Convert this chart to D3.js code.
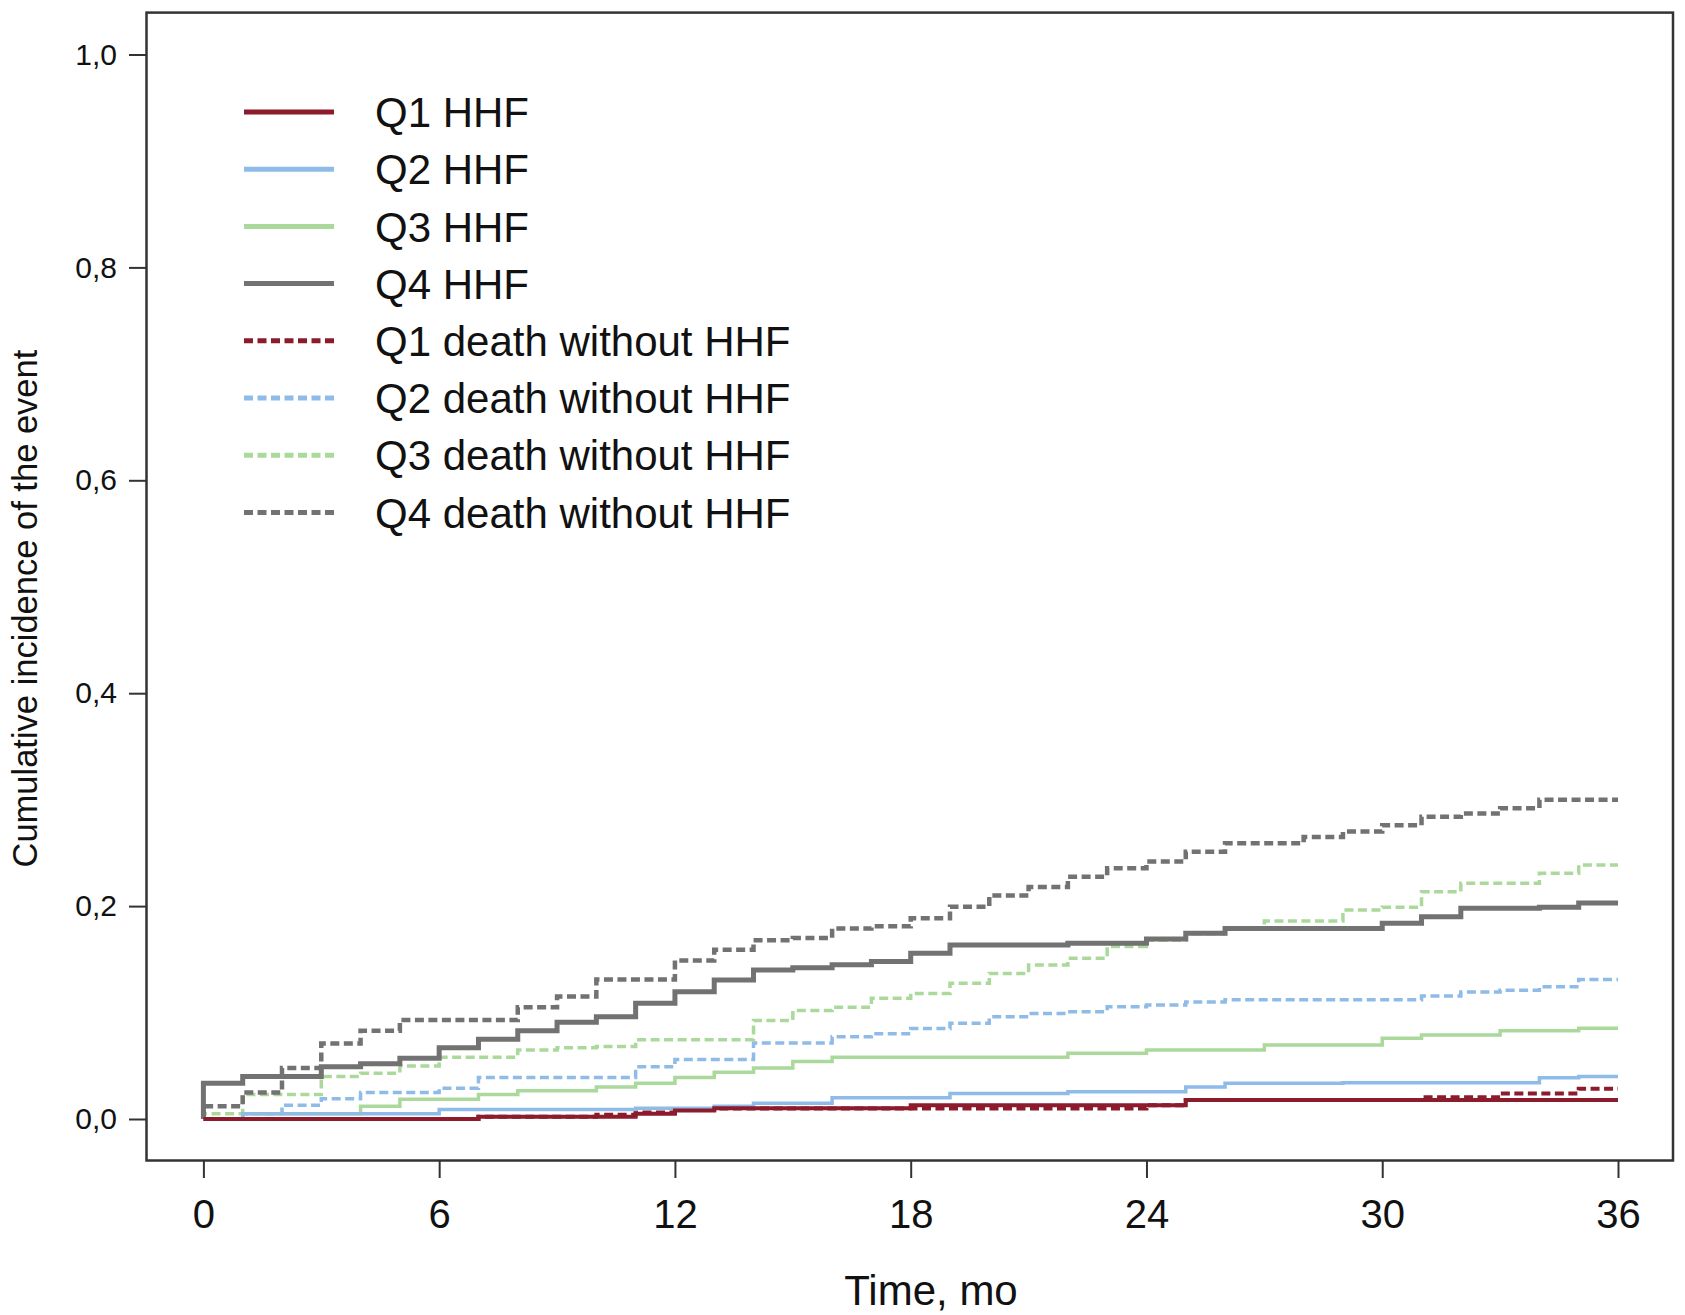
<!DOCTYPE html>
<html><head><meta charset="utf-8">
<script src="https://cdn.jsdelivr.net/npm/d3@7"></script>
<style>
html,body{margin:0;padding:0;background:#fff;}
svg{display:block;font-family:"Liberation Sans",Arial,Helvetica,sans-serif;}
</style>
</head><body>
<svg id="chart" width="1685" height="1315"></svg>
<script>
// ---- data ----
const xTicks = [0, 6, 12, 18, 24, 30, 36];
const yTicks = [0, 0.2, 0.4, 0.6, 0.8, 1.0];
const yTickLabels = ["0,0", "0,2", "0,4", "0,6", "0,8", "1,0"];
const xTitle = "Time, mo";
const yTitle = "Cumulative incidence of the event";
const seriesNames = ["Q1 HHF", "Q2 HHF", "Q3 HHF", "Q4 HHF",
  "Q1 death without HHF", "Q2 death without HHF", "Q3 death without HHF", "Q4 death without HHF"];

const q1HHF = [[0,0],[7,0.002],[11,0.005],[12,0.008],[13,0.010],[18,0.013],[25,0.0178],[36,0.0178]];
const q2HHF = [[0,0],[1,0.005],[6,0.009],[11,0.010],[13,0.012],[14,0.0147],[16,0.020],[19,0.024],[22,0.0257],[25,0.030],[26,0.0335],[29,0.034],[34,0.0388],[35,0.040],[36,0.040]];
const q3HHF = [[0,0],[1,0.005],[4,0.012],[5,0.0185],[7,0.023],[8,0.0266],[10,0.030],[11,0.0335],[12,0.039],[13,0.044],[14,0.048],[15,0.054],[16,0.058],[22,0.0617],[24,0.0648],[27,0.0695],[30,0.0758],[31,0.0789],[33,0.083],[35,0.0852],[36,0.0852]];
const q4HHF = [[0,0],[0,0.0335],[1,0.040],[3,0.049],[4,0.052],[5,0.057],[6,0.067],[7,0.075],[8,0.083],[9,0.091],[10,0.096],[11,0.1087],[12,0.1196],[13,0.1306],[14,0.140],[15,0.142],[16,0.145],[17,0.148],[18,0.1556],[19,0.1635],[22,0.165],[24,0.169],[25,0.1744],[26,0.179],[30,0.1838],[31,0.190],[32,0.198],[34,0.199],[35,0.203],[36,0.203]];
const q1Death = [[0,0],[7,0.002],[10,0.004],[11,0.006],[12,0.009],[13,0.0098],[24,0.013],[25,0.0178],[31,0.0205],[33,0.024],[35,0.0285],[36,0.0285]];
const q2Death = [[0,0],[1,0.005],[2,0.013],[3,0.019],[4,0.025],[6,0.029],[7,0.039],[11,0.049],[12,0.056],[14,0.0715],[16,0.0773],[17,0.080],[18,0.085],[19,0.090],[20,0.096],[21,0.099],[22,0.1008],[23,0.1055],[24,0.107],[25,0.110],[26,0.112],[31,0.1155],[32,0.1193],[33,0.121],[34,0.1243],[35,0.131],[36,0.131]];
const q3Death = [[0,0],[0,0.005],[1,0.023],[3,0.040],[4,0.043],[5,0.0498],[6,0.058],[8,0.0648],[9,0.067],[10,0.068],[11,0.0745],[14,0.0925],[15,0.102],[16,0.105],[17,0.1134],[18,0.118],[19,0.1275],[20,0.1368],[21,0.1447],[22,0.151],[23,0.162],[24,0.168],[25,0.174],[26,0.179],[27,0.186],[29,0.1963],[30,0.199],[31,0.2135],[32,0.2214],[34,0.2308],[35,0.2386],[36,0.2386]];
const q4Death = [[0,0],[0,0.012],[1,0.025],[2,0.048],[3,0.071],[4,0.083],[5,0.093],[8,0.105],[9,0.115],[10,0.131],[12,0.149],[13,0.159],[14,0.168],[15,0.170],[16,0.179],[17,0.181],[18,0.1885],[19,0.1995],[20,0.210],[21,0.218],[22,0.2276],[23,0.2355],[24,0.242],[25,0.251],[26,0.259],[28,0.265],[29,0.270],[30,0.276],[31,0.284],[32,0.287],[33,0.292],[34,0.300],[36,0.300]];

// ---- styles ----
const RED = "#8c1b2c", BLUE = "#8fbbe8", GREEN = "#abd99c", GRAY = "#727272";
const series = [
  {name: seriesNames[4], data: q1Death, color: RED,   width: 4,   dash: "9,4.5"},
  {name: seriesNames[5], data: q2Death, color: BLUE,  width: 3.5, dash: "9,4.5"},
  {name: seriesNames[6], data: q3Death, color: GREEN, width: 3.5, dash: "9,4.5"},
  {name: seriesNames[7], data: q4Death, color: GRAY,  width: 4.5, dash: "9,4.5"},
  {name: seriesNames[2], data: q3HHF,   color: GREEN, width: 3.5, dash: null},
  {name: seriesNames[1], data: q2HHF,   color: BLUE,  width: 3.5, dash: null},
  {name: seriesNames[3], data: q4HHF,   color: GRAY,  width: 5,   dash: null},
  {name: seriesNames[0], data: q1HHF,   color: RED,   width: 4,   dash: null}
];
const legendOrder = [7, 5, 4, 6, 0, 1, 2, 3];

const svg = d3.select("#chart");
const box = {left: 146.5, right: 1673, top: 12.6, bottom: 1160.5};
const x = d3.scaleLinear().domain([0, 36]).range([203.4, 1618]);
const y = d3.scaleLinear().domain([0, 1]).range([1119, 54.5]);

// frame
svg.append("rect")
  .attr("x", box.left).attr("y", box.top)
  .attr("width", box.right - box.left).attr("height", box.bottom - box.top)
  .attr("fill", "none").attr("stroke", "#333").attr("stroke-width", 2.5);

// axes
const xAxis = svg.append("g").attr("transform", `translate(0,${box.bottom})`)
  .call(d3.axisBottom(x).tickValues(xTicks).tickSize(17.5).tickPadding(22).tickFormat(d3.format("d")));
xAxis.select(".domain").remove();
xAxis.selectAll("line").attr("stroke", "#333").attr("stroke-width", 2);
xAxis.selectAll("text").attr("font-size", 40).attr("fill", "#111")
  .attr("font-family", "'Liberation Sans',Arial,sans-serif");

const yAxis = svg.append("g").attr("transform", `translate(${box.left},0)`)
  .call(d3.axisLeft(y).tickValues(yTicks).tickSize(17.5).tickPadding(12)
    .tickFormat((d, i) => yTickLabels[i]));
yAxis.select(".domain").remove();
yAxis.selectAll("line").attr("stroke", "#333").attr("stroke-width", 2);
yAxis.selectAll("text").attr("font-size", 30).attr("fill", "#111")
  .attr("font-family", "'Liberation Sans',Arial,sans-serif");

// titles
svg.append("text").attr("x", 931).attr("y", 1305).attr("text-anchor", "middle")
  .attr("font-size", 42).attr("fill", "#111").text(xTitle);
svg.append("text").attr("transform", "translate(37,608.6) rotate(-90)")
  .attr("text-anchor", "middle").attr("font-size", 34.5).attr("fill", "#111").text(yTitle);

// curves
const line = d3.line().x(d => x(d[0])).y(d => y(d[1])).curve(d3.curveStepAfter);
svg.append("g").selectAll("path").data(series).join("path")
  .attr("d", d => line(d.data))
  .attr("fill", "none")
  .attr("stroke", d => d.color)
  .attr("stroke-width", d => d.width)
  .attr("stroke-dasharray", d => d.dash)
  .attr("stroke-linejoin", "miter");

// legend
const leg = svg.append("g");
legendOrder.forEach((si, i) => {
  const s = series[si];
  const yy = 112 + i * 57.2;
  leg.append("line").attr("x1", 244).attr("x2", 334).attr("y1", yy).attr("y2", yy)
    .attr("stroke", s.color).attr("stroke-width", 5).attr("stroke-dasharray", s.dash);
  leg.append("text").attr("x", 375).attr("y", yy).attr("dy", "0.36em")
    .attr("font-size", 42).attr("fill", "#111").text(s.name);
});
</script>
</body></html>
